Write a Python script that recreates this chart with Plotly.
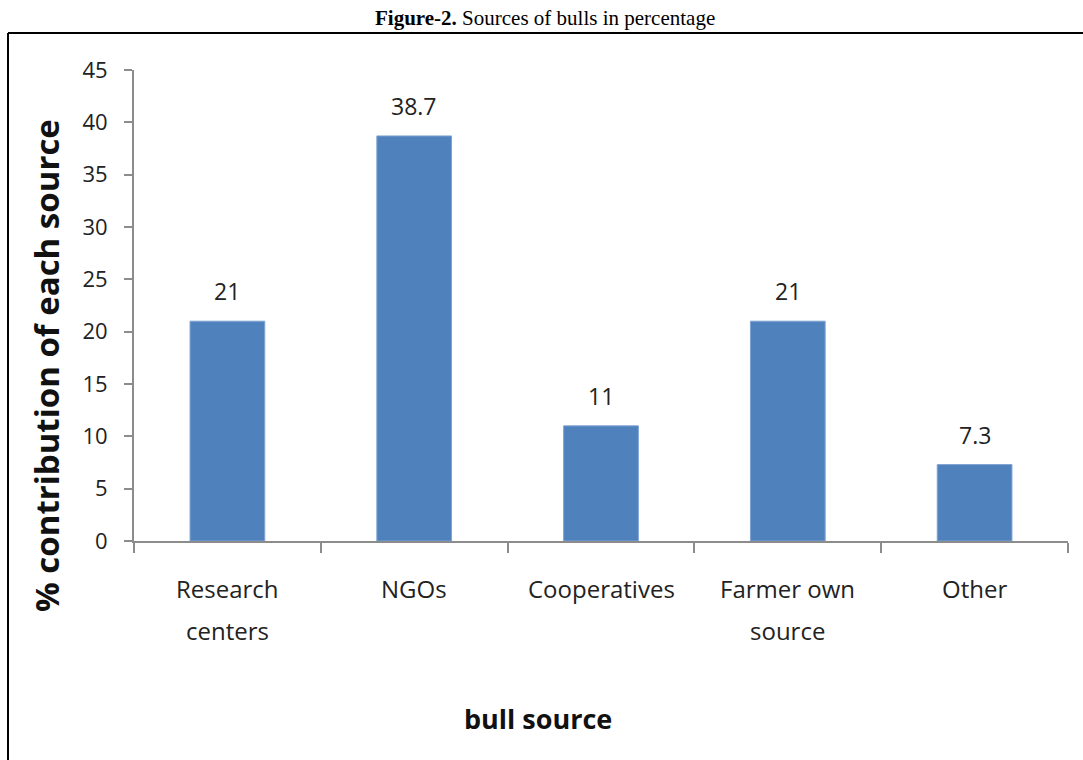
import plotly.graph_objects as go

categories = ["Research centers", "NGOs", "Cooperatives", "Farmer own source", "Other"]
label_line1 = ["Research", "NGOs", "Cooperatives", "Farmer own", "Other"]
label_line2 = ["centers", "", "", "source", ""]
values = [21, 38.7, 11, 21, 7.3]
value_text = ["21", "38.7", "11", "21", "7.3"]
y_ticks = [0, 5, 10, 15, 20, 25, 30, 35, 40, 45]

W, H = 1083, 760
ml, mr, mt, mb = 134, 15, 70, 219
plot_w = W - ml - mr
plot_h = H - mt - mb


def px(pix):
    return (pix - ml) / plot_w


def py(pix):
    return (H - mb - pix) / plot_h


fig = go.Figure()
fig.add_trace(go.Bar(
    x=categories, y=values,
    marker=dict(color="#4F81BD", line=dict(color="#7FA3D3", width=1)),
    width=0.4, hoverinfo="skip",
))

font_main = "Open Sans, Noto Sans, sans-serif"
annotations = []
for c, v, t in zip(categories, values, value_text):
    annotations.append(dict(x=c, y=v, xref="x", yref="y", text=t, showarrow=False,
                            xanchor="center", yanchor="middle",
                            yshift=30, font=dict(family=font_main, size=23, color="#222")))
for c, l1, l2 in zip(categories, label_line1, label_line2):
    annotations.append(dict(x=c, y=py(588), xref="x", yref="paper", yanchor="middle",
                            xanchor="center", text=l1, showarrow=False,
                            font=dict(family=font_main, size=24, color="#222")))
    if l2:
        annotations.append(dict(x=c, y=py(630), xref="x", yref="paper", yanchor="middle",
                                xanchor="center", text=l2, showarrow=False,
                                font=dict(family=font_main, size=24, color="#222")))

annotations.append(dict(x=px(538), y=py(718), xref="paper", yref="paper",
                        xanchor="center", yanchor="middle", text="<b>bull source</b>",
                        showarrow=False, font=dict(family=font_main, size=27, color="#111")))
annotations.append(dict(x=px(46), y=py(366), xref="paper", yref="paper",
                        xanchor="center", yanchor="middle",
                        text="<b>% contribution of each source</b>",
                        showarrow=False, textangle=-90,
                        font=dict(family=font_main, size=33, color="#111")))
annotations.append(dict(x=px(545), y=py(18), xref="paper", yref="paper",
                        xanchor="center", yanchor="middle",
                        text="<b>Figure-2.</b> Sources of bulls in percentage",
                        showarrow=False,
                        font=dict(family="Liberation Serif, Times New Roman, serif", size=21, color="#000")))

fig.update_layout(
    width=W, height=H,
    margin=dict(l=ml, r=mr, t=mt, b=mb),
    paper_bgcolor="white", plot_bgcolor="white",
    showlegend=False,
    bargap=0.6,
    annotations=annotations,
    shapes=[
        dict(type="line", xref="paper", yref="paper",
             x0=px(8), x1=px(W + 5), y0=py(33), y1=py(33),
             line=dict(color="black", width=2)),
        dict(type="line", xref="paper", yref="paper",
             x0=px(8), x1=px(8), y0=py(33), y1=py(H + 5),
             line=dict(color="black", width=2)),
    ],
)
fig.update_xaxes(
    showticklabels=False, showline=True, linecolor="#8c8c8c", linewidth=2,
    ticks="outside", tickson="boundaries", ticklen=10, tickwidth=2, tickcolor="#8c8c8c",
    showgrid=False, zeroline=False,
)
fig.update_yaxes(
    range=[0, 45], tickvals=y_ticks, showline=True, linecolor="#8c8c8c", linewidth=2,
    ticks="outside", ticklen=8, tickwidth=2, tickcolor="#8c8c8c",
    ticklabelstandoff=12,
    showgrid=False, zeroline=False,
    tickfont=dict(family=font_main, size=22, color="#222"),
)
fig.write_html("out.html")
